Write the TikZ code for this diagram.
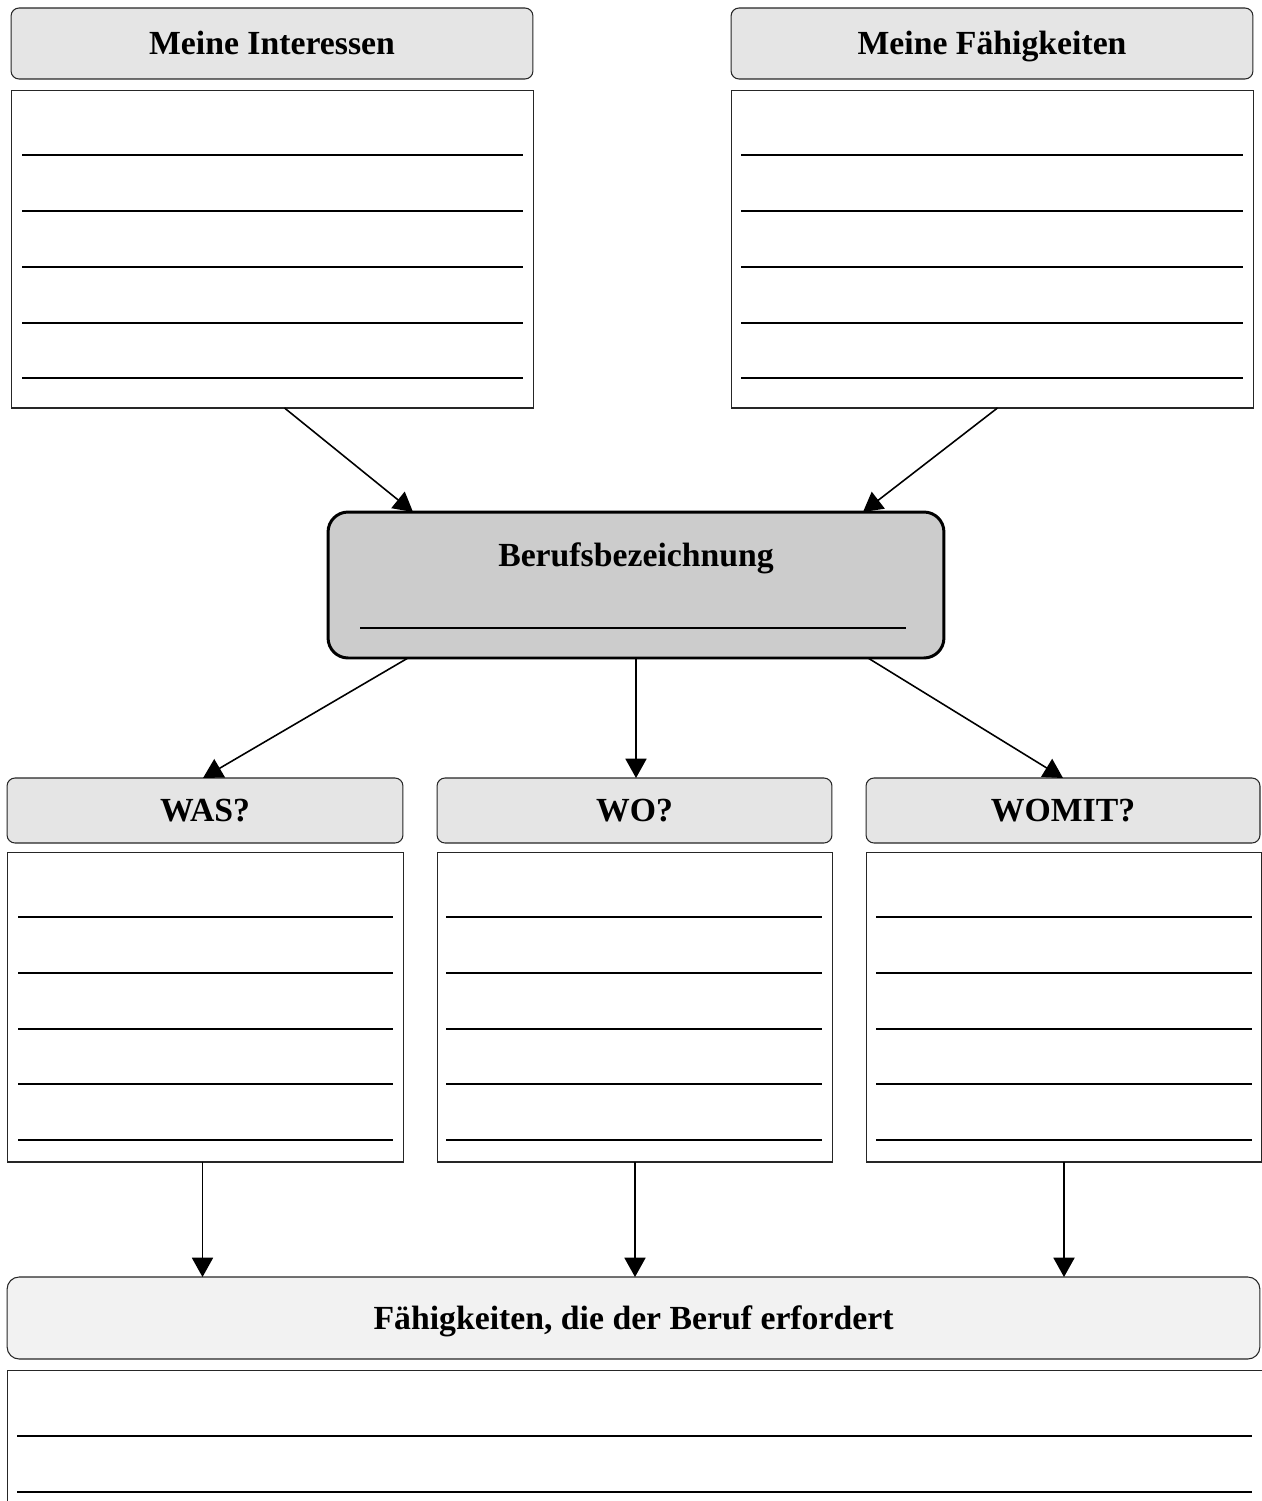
\documentclass[tikz,border=0pt]{standalone}
\usepackage{fontspec}
\setmainfont{Liberation Serif}
\usetikzlibrary{calc,arrows.meta}

\tikzset{
  head/.style={draw=black!85, line width=0.6pt, fill=black!10, rounded corners=0.16cm,
    inner sep=0pt, outer sep=0pt, text height=12.7pt, text depth=0pt,
    font=\fontsize{19.2}{23}\selectfont\bfseries},
  writebox/.style={draw=black!85, line width=0.6pt, fill=white, inner sep=0pt, outer sep=0pt},
  wline/.style={line width=1.1pt},
  pfeil/.style={line width=0.9pt, -{Triangle[length=11pt,width=12pt]}}
}

\begin{document}
\begin{tikzpicture}[x=0.02cm, y=-0.02cm]
\useasboundingbox (0,0) rectangle (1261,1501);

% oben
\node[head, minimum width=10.44cm, minimum height=1.42cm] (hdrInt) at (272,43.5) {Meine Interessen};
\node[writebox, minimum width=10.46cm, minimum height=6.36cm] (boxInt) at (272.5,249) {};
\node[head, minimum width=10.44cm, minimum height=1.42cm] (hdrFae) at (992,43.5) {Meine Fähigkeiten};
\node[writebox, minimum width=10.46cm, minimum height=6.36cm] (boxFae) at (992.5,249) {};
\foreach \y in {155,211,267,323,378} {
  \draw[wline] (22,\y) -- (523,\y);
  \draw[wline] (741,\y) -- (1243,\y);
}

% Mitte
\node[draw, line width=1.7pt, fill=black!20, rounded corners=0.4cm, inner sep=0pt, outer sep=0pt,
  minimum width=12.32cm, minimum height=2.92cm] (beruf) at (636,585) {};
\node[inner sep=0pt, text height=12.7pt, text depth=0pt,
  font=\fontsize{19.2}{23}\selectfont\bfseries] (berufTxt) at ($(beruf.north)+(0,43)$) {Berufsbezeichnung};
\draw[wline] (360,628) -- (906,628);

\draw[pfeil] ($(boxInt.south)+(12,0)$) -- ($(beruf.north)+(-223,0)$);
\draw[pfeil] ($(boxFae.south)+(5,0)$) -- ($(beruf.north)+(227,0)$);

% WAS / WO / WOMIT
\node[head, minimum width=7.92cm, minimum height=1.3cm] (hdrWas) at (205,810.5) {WAS?};
\node[head, minimum width=7.9cm, minimum height=1.3cm] (hdrWo) at (634.5,810.5) {WO?};
\node[head, minimum width=7.88cm, minimum height=1.3cm] (hdrWomit) at (1063,810.5) {WOMIT?};
\node[writebox, minimum width=7.94cm, minimum height=6.2cm] (boxWas) at (205.5,1007) {};
\node[writebox, minimum width=7.92cm, minimum height=6.2cm] (boxWo) at (635,1007) {};
\node[writebox, minimum width=7.92cm, minimum height=6.2cm] (boxWomit) at (1064,1007) {};
\foreach \y in {917,973,1029,1084,1140} {
  \draw[wline] (18,\y) -- (393,\y);
  \draw[wline] (446,\y) -- (822,\y);
  \draw[wline] (876,\y) -- (1252,\y);
}

\draw[pfeil] ($(beruf.south)+(-228,0)$) -- ($(hdrWas.north)+(-2,0)$);
\draw[pfeil] (beruf.south) -- (beruf.south |- hdrWo.north);
\draw[pfeil] ($(beruf.south)+(232,0)$) -- (hdrWomit.north);

% unten
\node[head, fill=black!5, rounded corners=0.24cm, minimum width=25.06cm, minimum height=1.64cm] (hdrBeruf) at (633.5,1318) {Fähigkeiten, die der Beruf erfordert};
\node[writebox, minimum width=25.2cm, minimum height=2.8cm] (boxBeruf) at (637,1440) {};
\foreach \y in {1436,1492}
  \draw[wline] (17,\y) -- (1252,\y);

\draw[pfeil] ($(boxWas.south)+(-3,0)$) -- ($(boxWas.south |- hdrBeruf.north)+(-3,0)$);
\draw[pfeil] (boxWo.south) -- (boxWo.south |- hdrBeruf.north);
\draw[pfeil] (boxWomit.south) -- (boxWomit.south |- hdrBeruf.north);

\end{tikzpicture}
\end{document}
